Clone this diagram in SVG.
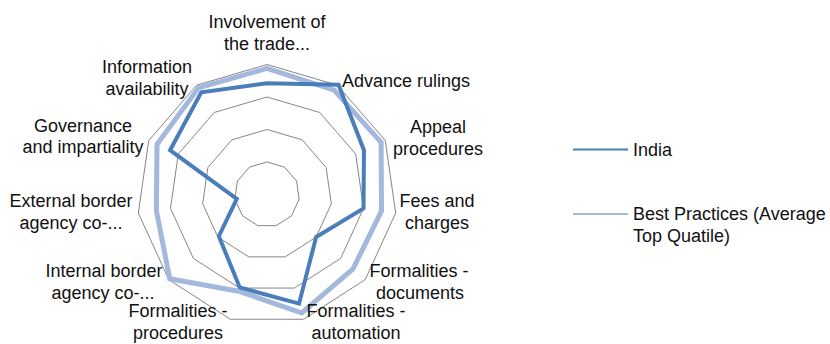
<svg xmlns="http://www.w3.org/2000/svg" width="830" height="344" viewBox="0 0 830 344">
<style>
.grid{fill:none;stroke:#868686;stroke-width:1}
.india{fill:none;stroke:#4a7ebb;stroke-width:4;stroke-linejoin:miter}
.best{fill:none;stroke:#a3b8dc;stroke-width:5;stroke-linejoin:miter}
text{font-family:"Liberation Sans",Arial,sans-serif;font-size:18px;fill:#111}
.c{text-anchor:middle}
</style>
<rect width="830" height="344" fill="#fff"/>
<g id="grid">
<polygon class="grid" points="267,64.5 337.28,85.13 385.25,140.5 395.67,213 365.24,279.64 303.62,319.24 230.38,319.24 168.76,279.64 138.33,213 148.75,140.5 196.72,85.13"/>
<polygon class="grid" points="267,97 319.71,112.47 355.69,154 363.51,208.37 340.68,258.35 294.47,288.05 239.53,288.05 193.32,258.35 170.49,208.37 178.31,154 214.29,112.47"/>
<polygon class="grid" points="267,129.5 302.14,139.82 326.12,167.5 331.34,203.75 316.12,237.07 285.31,256.87 248.69,256.87 217.88,237.07 202.66,203.75 207.88,167.5 231.86,139.82"/>
<polygon class="grid" points="267,162 284.57,167.16 296.56,181 299.17,199.12 291.56,215.78 276.16,225.68 257.84,225.68 242.44,215.78 234.83,199.12 237.44,181 249.43,167.16"/>
</g>
<g id="series">
<polygon id="best" class="best" points="267,68.4 334.12,90.05 381.11,142.39 381.52,210.96 352.96,269 301.79,313 238.62,291.17 169.74,278.79 156.34,210.41 157.03,144.28 198.48,87.86"/>
<polygon id="india" class="india" points="267,83.3 338.5,84.8 363.96,150.22 363.51,208.37 316.12,237.07 299.04,303.64 239.72,287.43 218.86,236.22 236.76,198.85 170.04,150.22 201.29,92.24"/>
</g>
<g id="labels">
<text class="c" x="267" y="28">Involvement of</text>
<text class="c" x="267" y="50">the trade...</text>
<text x="342" y="86.5">Advance rulings</text>
<text class="c" x="438" y="133">Appeal</text>
<text class="c" x="438" y="155">procedures</text>
<text class="c" x="437" y="207">Fees and</text>
<text class="c" x="437" y="229">charges</text>
<text class="c" x="419" y="277">Formalities -</text>
<text class="c" x="420" y="299">documents</text>
<text class="c" x="356" y="317">Formalities -</text>
<text class="c" x="356" y="339">automation</text>
<text class="c" x="178" y="317">Formalities -</text>
<text class="c" x="178" y="339">procedures</text>
<text class="c" x="104" y="277">Internal border</text>
<text class="c" x="103" y="299">agency co-...</text>
<text class="c" x="71" y="207">External border</text>
<text class="c" x="71" y="229">agency co-...</text>
<text class="c" x="83" y="132">Governance</text>
<text class="c" x="83" y="153">and impartiality</text>
<text class="c" x="147" y="73">Information</text>
<text class="c" x="147" y="95">availability</text>
</g>
<g id="legend">
<line x1="573" y1="149.5" x2="628" y2="149.5" stroke="#4a7ebb" stroke-width="2"/>
<text x="633" y="156">India</text>
<line x1="573" y1="214" x2="628" y2="214" stroke="#a3b8dc" stroke-width="2"/>
<text x="633" y="220">Best Practices (Average</text>
<text x="633" y="242">Top Quatile)</text>
</g>
</svg>
